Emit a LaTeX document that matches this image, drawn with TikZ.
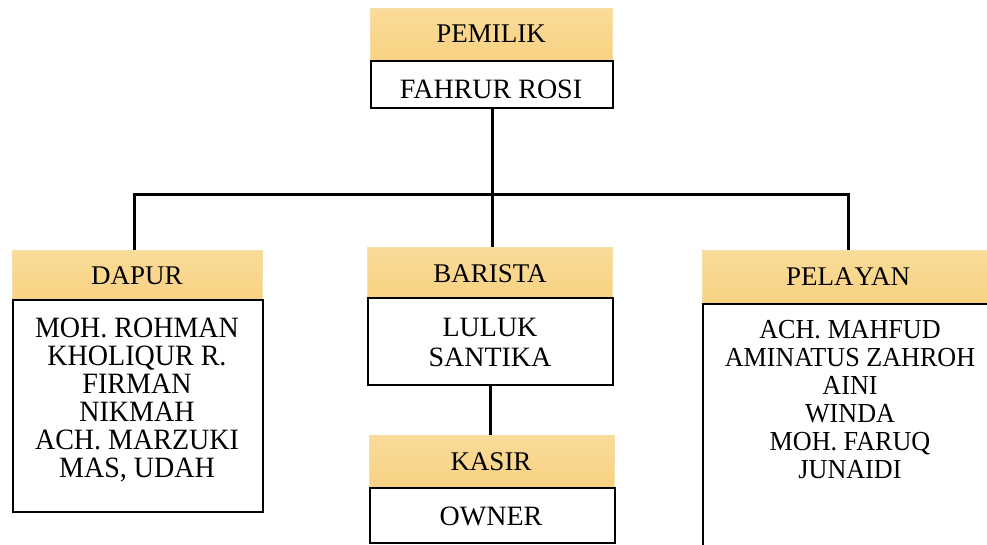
\documentclass[tikz,border=0pt]{standalone}
\usepackage{fontspec}
\setmainfont{Liberation Serif}
\newfontfamily\narrowserif[FakeStretch=0.95]{Liberation Serif}
\definecolor{hdrtop}{HTML}{FADB98}
\definecolor{hdrbot}{HTML}{F8D283}
\definecolor{hdredge}{HTML}{F3DFAA}
\tikzset{
  hdr/.style={draw=hdredge, line width=0.8pt, top color=hdrtop, bottom color=hdrbot, inner sep=0pt, anchor=north west},
  bodybox/.style={draw=black, line width=2pt, fill=white, inner sep=0pt, anchor=north west},
  lbl/.style={font=\fontsize{27}{29}\selectfont, align=center, inner sep=0pt},
  bodylbl/.style={font=\fontsize{28}{29}\selectfont, align=center, inner sep=0pt},
  conn/.style={line width=3pt}
}
\begin{document}
\begin{tikzpicture}[x=1pt,y=-1pt]
\useasboundingbox (0,0) rectangle (987,544);
\clip (0,0) rectangle (987,544);
\fill[white] (0,0) rectangle (987,544);
% PEMILIK
\node[hdr, minimum width=242pt, minimum height=52pt] (pemilik) at (370,8) {};
\node[bodybox, minimum width=242pt, minimum height=47pt] (pbody) at (370,60) {};
\node[lbl] (pemiliktxt) at (491,34) {PEMILIK};
\node[bodylbl] (fahrur) at (491,89) {FAHRUR ROSI};
% DAPUR
\node[hdr, minimum width=250pt, minimum height=49pt] (dapur) at (12,250) {};
\node[bodybox, minimum width=250pt, minimum height=212pt] (dbody) at (12,299) {};
\node[lbl] (dapurtxt) at (137,276) {DAPUR};
\node[bodylbl, font=\narrowserif\fontsize{29.5}{28}\selectfont] (dapurnames) at (137,400) {MOH. ROHMAN\\KHOLIQUR R.\\FIRMAN\\NIKMAH\\ACH. MARZUKI\\MAS, UDAH};
% BARISTA
\node[hdr, minimum width=245pt, minimum height=50pt] (barista) at (367,247) {};
\node[bodybox, minimum width=245pt, minimum height=87pt] (bbody) at (367,297) {};
\node[lbl] (baristatxt) at (490,274) {BARISTA};
\node[bodylbl, font=\fontsize{28}{30}\selectfont] (luluk) at (490,342) {LULUK\\SANTIKA};
% KASIR
\node[hdr, minimum width=245pt, minimum height=52pt] (kasir) at (369,435) {};
\node[bodybox, minimum width=245pt, minimum height=55pt] (kbody) at (369,487) {};
\node[lbl] (kasirtxt) at (491,462) {KASIR};
\node[bodylbl] (ownertxt) at (491,516) {OWNER};
% PELAYAN
\node[hdr, minimum width=292pt, minimum height=53pt] (pelayan) at (702,250) {};
\node[bodybox, minimum width=292pt, minimum height=260pt] (plbody) at (702,303) {};
\node[lbl] (pelayantxt) at (848,277) {PELA\kern1ptYAN};
\node[bodylbl, font=\narrowserif\fontsize{27.5}{28}\selectfont] (pelayannames) at (850,400) {ACH. MAHFUD\\AMINATUS ZAHROH\\AINI\\WINDA\\MOH. FARUQ\\JUNAIDI};
% connectors
\coordinate (bar) at (0,194);
\draw[conn] (pbody.south) -- (pbody.south |- barista.north);
\draw[conn] ([xshift=-3pt]dapur.north) -- ([xshift=-3pt]dapur.north |- bar) -- (pelayan.north |- bar) -- (pelayan.north);
\draw[conn] (bbody.south) -- (bbody.south |- kasir.north);
\end{tikzpicture}
\end{document}
